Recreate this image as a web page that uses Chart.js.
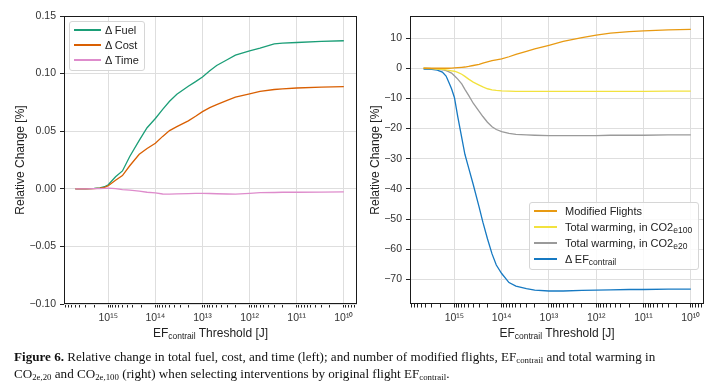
<!DOCTYPE html>
<html>
<head>
<meta charset="utf-8">
<script src="https://cdn.jsdelivr.net/npm/chart.js@4.4.1/dist/chart.umd.min.js"></script>
<style>
  body { margin: 0; width: 715px; height: 389px; background: #fff; position: relative; overflow: hidden;
         font-family: "Liberation Sans", Arial, sans-serif; color: #222; }
  canvas { position: absolute; top: 0; }
  #cLeft { left: 0; }
  #cRight { left: 355px; }
  .legend { position: absolute; background: rgba(255,255,255,0.85); border: 1px solid #d6d6d6; border-radius: 3px;
            font-size: 11px; color: #222; box-sizing: border-box; }
  .row { position: absolute; left: 0; height: 14px; line-height: 14px; white-space: nowrap; }
  .row .swatch { position: absolute; top: 6px; height: 2px; display: block; }
  .row .txt { position: absolute; top: 0; }
  .legend sub, .xtitle sub { font-size: 8.5px; vertical-align: -2px; line-height: 0; }
  .xtitle { position: absolute; top: 326px; height: 14px; line-height: 14px; text-align: center; font-size: 12px; white-space: nowrap; }
  #caption { position: absolute; left: 14px; top: 348px; font-family: "Liberation Serif", "Times New Roman", serif;
             font-size: 13.1px; line-height: 17px; white-space: nowrap; color: #111; }
  #caption sub { font-size: 8.8px; vertical-align: -2px; line-height: 0; }
</style>
</head>
<body>
<canvas id="cLeft" width="360" height="345"></canvas>
<canvas id="cRight" width="360" height="345"></canvas>

<div class="legend" style="left:69px;top:21px;width:76px;height:50px;">
  <div class="row" style="top:1px"><span class="swatch" style="left:4px;width:27px;background-color:#1b9e77"></span><span class="txt" style="left:35px">Δ Fuel</span></div>
  <div class="row" style="top:16px"><span class="swatch" style="left:4px;width:27px;background-color:#d95f02"></span><span class="txt" style="left:35px">Δ Cost</span></div>
  <div class="row" style="top:31px"><span class="swatch" style="left:4px;width:27px;background-color:#de8ccc"></span><span class="txt" style="left:35px">Δ Time</span></div>
</div>

<div class="legend" style="left:529px;top:202px;width:170px;height:68px;">
  <div class="row" style="top:1px"><span class="swatch" style="left:4px;width:23px;background-color:#e89a12"></span><span class="txt" style="left:35px">Modified Flights</span></div>
  <div class="row" style="top:17px"><span class="swatch" style="left:4px;width:23px;background-color:#f2e23e"></span><span class="txt" style="left:35px">Total warming, in CO2<sub>e100</sub></span></div>
  <div class="row" style="top:33px"><span class="swatch" style="left:4px;width:23px;background-color:#9a9a9a"></span><span class="txt" style="left:35px">Total warming, in CO2<sub>e20</sub></span></div>
  <div class="row" style="top:49px"><span class="swatch" style="left:4px;width:23px;background-color:#1679c2"></span><span class="txt" style="left:35px">Δ EF<sub>contrail</sub></span></div>
</div>

<div class="xtitle" style="left:64px;width:293px;">EF<sub>contrail</sub> Threshold [J]</div>
<div class="xtitle" style="left:410px;width:294px;">EF<sub>contrail</sub> Threshold [J]</div>

<div id="caption"><b>Figure 6.</b> Relative change in total fuel, cost, and time (left); and number of modified flights, EF<sub>contrail</sub> and total warming in<br>CO<sub>2e,20</sub> and CO<sub>2e,100</sub> (right) when selecting interventions by original flight EF<sub>contrail</sub>.</div>

<script>
// ---- data ----
const thresholdsL = [5e15, 3e15, 2e15, 1.5e15, 1.2e15, 1e15, 7e14, 5e14, 3.5e14, 2.2e14, 1.5e14, 1e14,
  7e13, 5e13, 3.5e13, 2e13, 1.4e13, 1e13, 7e12, 5e12, 3e12, 2e12, 1e12, 6e11, 3e11, 2e11, 1e11, 3e10, 1e10];
const fuel = [0, 0, 0.0003, 0.0008, 0.0018, 0.0035, 0.0105, 0.0155, 0.028, 0.042, 0.053, 0.061,
  0.069, 0.076, 0.082, 0.089, 0.093, 0.097, 0.1025, 0.107, 0.112, 0.116, 0.1198, 0.1222, 0.1258, 0.1265, 0.127, 0.128, 0.1285];
const cost = [0, 0, 0.0002, 0.0005, 0.0012, 0.0026, 0.0075, 0.0115, 0.020, 0.030, 0.035, 0.0395,
  0.0455, 0.0505, 0.054, 0.059, 0.063, 0.067, 0.0705, 0.073, 0.0768, 0.0795, 0.0823, 0.0845, 0.0862, 0.0868, 0.0875, 0.0882, 0.0887];
const time = [0, 0, 0.0001, 0.0002, 0.0004, 0.0006, 0.0002, -0.0007, -0.0012, -0.002, -0.003, -0.0036,
  -0.0045, -0.0047, -0.0044, -0.0042, -0.004, -0.0039, -0.0041, -0.0043, -0.0045, -0.0046, -0.004, -0.0034, -0.0032, -0.003, -0.003, -0.0029, -0.0027];

const thresholdsR = [4.5e15, 3e15, 2.3e15, 1.8e15, 1.5e15, 1.3e15, 1.15e15, 1e15, 8.5e14, 7e14, 6e14, 5e14,
  4e14, 3e14, 2.5e14, 2e14, 1.6e14, 1.3e14, 1e14, 7e13, 5e13, 3e13, 2e13, 1e13, 5e12, 2e12, 1e12, 5e11, 2e11, 1e11, 3e10, 1e10];
const modified = [0, 0, 0, 0, 0, 0, 0.02, 0.1, 0.2, 0.3, 0.4, 0.6,
  0.9, 1.3, 1.7, 2.1, 2.5, 2.8, 3.1, 3.8, 4.6, 5.6, 6.4, 7.6, 8.9, 10.1, 11.0, 11.6, 12.1, 12.35, 12.7, 12.9];
const co2e100 = [0, -0.1, -0.25, -0.4, -0.55, -0.7, -0.85, -1.0, -1.4, -2.0, -2.7, -3.6,
  -4.6, -5.6, -6.2, -6.8, -7.15, -7.35, -7.5, -7.6, -7.65, -7.7, -7.7, -7.7, -7.7, -7.7, -7.7, -7.7, -7.65, -7.65, -7.6, -7.6];
const co2e20 = [0, -0.1, -0.3, -0.5, -0.8, -1.2, -1.6, -2.5, -3.6, -5.2, -7.0, -9.0,
  -11.6, -14.3, -16.0, -17.9, -19.4, -20.3, -21.0, -21.6, -21.9, -22.1, -22.2, -22.3, -22.3, -22.3, -22.3, -22.2, -22.2, -22.2, -22.1, -22.1];
const efContrail = [-0.3, -0.4, -0.6, -1.3, -2.6, -4.8, -6.8, -9.7, -16, -23, -28.5, -33,
  -38.5, -46, -51, -56.5, -61.5, -65.2, -68, -71, -72.2, -73.0, -73.5, -73.8, -73.8, -73.6, -73.5, -73.4, -73.3, -73.3, -73.2, -73.2];

const xMajor = [1e15, 1e14, 1e13, 1e12, 1e11, 1e10];
const xTickLabels = ['10¹⁵', '10¹⁴', '10¹³', '10¹²', '10¹¹', '10¹⁰'];
const yTicksL = [-0.10, -0.05, 0, 0.05, 0.10, 0.15];
const yLabelsL = ['−0.10', '−0.05', '0.00', '0.05', '0.10', '0.15'];
const yTicksR = [-70, -60, -50, -40, -30, -20, -10, 0, 10];
const yLabelsR = ['−70', '−60', '−50', '−40', '−30', '−20', '−10', '0', '10'];

// ---- chart setup ----
Chart.defaults.font.family = '"Liberation Sans", Arial, sans-serif';
Chart.defaults.color = '#333';

const X_MIN = 5.25e9, X_MAX = 8.7e15;

const isMajor = (v) => xMajor.some((m) => Math.abs(v / m - 1) < 1e-9);

function logTicks(scale) {
  const t = [];
  for (let e = 9; e <= 15; e++) {
    for (let m = 1; m <= 9; m++) {
      const v = m * Math.pow(10, e);
      if (v >= X_MIN && v <= X_MAX) t.push({ value: v });
    }
  }
  scale.ticks = t;
}

const frame = {
  id: 'frame',
  afterDatasetsDraw(chart) {
    const { ctx, chartArea: a } = chart;
    ctx.save();
    ctx.strokeStyle = '#1a1a1a';
    ctx.lineWidth = 1;
    ctx.strokeRect(Math.round(a.left) + 0.5, Math.round(a.top) + 0.5,
      Math.round(a.right - a.left) - 1, Math.round(a.bottom - a.top) - 1);
    ctx.restore();
  },
};

function line(label, xs, ys, color) {
  return {
    label,
    data: xs.map((x, i) => ({ x, y: ys[i] })),
    borderColor: color,
    borderWidth: 1.3,
    pointRadius: 0,
    tension: 0,
  };
}

function makeChart(id, datasets, yMin, yMax, yTicks, yLabels, yWidth, padRight) {
  return new Chart(document.getElementById(id), {
    type: 'line',
    data: { datasets },
    options: {
      responsive: false,
      animation: false,
      devicePixelRatio: 1,
      layout: { padding: { left: 0, top: 16, right: padRight, bottom: 0 } },
      plugins: { legend: { display: false }, tooltip: { enabled: false } },
      scales: {
        x: {
          type: 'logarithmic',
          reverse: true,
          min: X_MIN,
          max: X_MAX,
          afterBuildTicks: logTicks,
          afterFit: (s) => { s.height = 41; },
          border: { display: false },
          grid: {
            color: (c) => (c.tick && isMajor(c.tick.value) ? '#dedede' : 'rgba(0,0,0,0)'),
            tickColor: '#222',
            tickLength: 3.5,
            lineWidth: 1,
          },
          ticks: {
            autoSkip: false,
            maxRotation: 0,
            padding: 4,
            color: '#333',
            font: { size: 10.5 },
            callback: (v) => {
              const i = xMajor.findIndex((m) => Math.abs(v / m - 1) < 1e-9);
              return i >= 0 ? xTickLabels[i] : '';
            },
          },
        },
        y: {
          min: yMin,
          max: yMax,
          afterBuildTicks: (s) => { s.ticks = yTicks.map((v) => ({ value: v })); },
          afterFit: (s) => { s.width = yWidth; },
          border: { display: false },
          grid: { color: '#dedede', tickColor: '#222', tickLength: 4, lineWidth: 1 },
          ticks: {
            padding: 4,
            color: '#333',
            font: { size: 10.5 },
            callback: (v, i) => yLabels[i],
          },
          title: {
            display: true,
            text: 'Relative Change [%]',
            color: '#222',
            font: { size: 12 },
            padding: { top: 13, bottom: 0 },
          },
        },
      },
    },
    plugins: [frame],
  });
}

makeChart('cLeft', [
  line('Δ Time', thresholdsL, time, '#de8ccc'),
  line('Δ Cost', thresholdsL, cost, '#d95f02'),
  line('Δ Fuel', thresholdsL, fuel, '#1b9e77'),
], -0.10, 0.15, yTicksL, yLabelsL, 64, 3);

makeChart('cRight', [
  line('Modified Flights', thresholdsR, modified, '#e89a12'),
  line('Total warming, in CO2e100', thresholdsR, co2e100, '#f2e23e'),
  line('Total warming, in CO2e20', thresholdsR, co2e20, '#9a9a9a'),
  line('Δ EFcontrail', thresholdsR, efContrail, '#1679c2'),
], -78.1, 17.3, yTicksR, yLabelsR, 55, 11);
</script>
</body>
</html>
